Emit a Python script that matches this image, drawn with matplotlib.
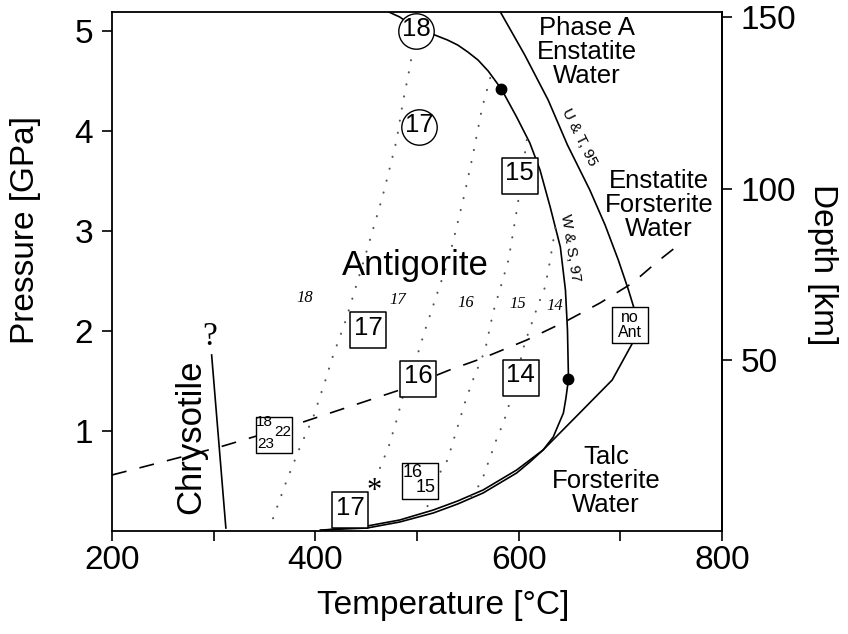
import matplotlib
matplotlib.use("Agg")
import matplotlib.pyplot as plt

plt.rcParams['font.family'] = ['Liberation Sans', 'DejaVu Sans']
SERIF = ['Liberation Serif', 'DejaVu Serif']

# ---------------- data ----------------
# Antigorite breakdown curve (W & S, 97)
ws97_T = [468, 483, 499, 510, 520, 530, 540, 550, 560, 570, 583, 598, 611, 621,
          631, 641, 646, 648, 649, 646.5, 644, 634, 624, 611, 598, 565, 540,
          516, 483, 451, 405]
ws97_P = [5.21, 5.14, 5.03, 4.99, 4.95, 4.91, 4.86, 4.79, 4.71, 4.60, 4.42, 4.14,
          3.88, 3.61, 3.24, 2.84, 2.41, 2.01, 1.52, 1.33, 1.18, 0.94, 0.81, 0.69,
          0.58, 0.38, 0.27, 0.18, 0.09, 0.03, 0.01]
# U & T, 95 curve continuing to talc-forsterite boundary
ut95_T = [582, 606, 629, 648, 670, 685, 698, 708, 714, 715, 712, 692, 660, 624,
          598, 565, 540, 516, 483, 451, 410]
ut95_P = [5.19, 4.76, 4.31, 3.86, 3.41, 3.06, 2.71, 2.41, 2.21, 2.06, 1.88, 1.51,
          1.18, 0.81, 0.61, 0.41, 0.30, 0.21, 0.11, 0.05, 0.01]
# dashed line
geo_T = [200, 306, 385, 483, 532, 565, 608, 647, 680, 712, 736, 761]
geo_P = [0.56, 0.84, 1.08, 1.41, 1.61, 1.73, 1.91, 2.10, 2.28, 2.48, 2.69, 2.89]
# chrysotile line
chr_T = [298, 312]
chr_P = [1.76, 0.03]
# dotted isopleths
iso18_T = [496, 493, 486, 480, 472, 466, 456, 447, 436, 429, 417, 410, 398, 385, 372, 355]
iso18_P = [4.83, 4.64, 4.28, 3.91, 3.58, 3.34, 2.99, 2.68, 2.31, 2.08, 1.74, 1.51,
           1.14, 0.84, 0.51, 0.03]
iso17_T = [572, 564, 555, 547, 539, 531, 520, 508, 501, 486, 480, 472, 462]
iso17_P = [4.53, 4.23, 3.76, 3.38, 3.04, 2.71, 2.38, 2.01, 1.78, 1.34, 1.11, 0.84, 0.59]
iso16_T = [608, 599, 590, 582, 575, 567, 555, 547, 539, 530, 523, 510]
iso16_P = [3.91, 3.26, 2.71, 2.43, 2.19, 1.81, 1.51, 1.28, 1.01, 0.71, 0.59, 0.24]
iso15_T = [636, 631, 626, 619, 614, 606, 592, 585, 579, 572, 564, 557, 550]
iso15_P = [3.03, 2.71, 2.44, 2.26, 2.11, 1.88, 1.31, 1.08, 0.94, 0.74, 0.51, 0.39, 0.31]
iso_labels = ['18', '17', '16', '15', '14']
iso_lab_T = [390, 481, 548, 599, 636]
iso_lab_P = [2.33, 2.31, 2.28, 2.27, 2.25]
# boxed sample numbers
box_text = ['17', '16', '14', '15', '17']
box_T = [452, 501, 602, 601, 434.5]
box_P = [2.01, 1.525, 1.535, 3.555, 0.21]
# circled sample numbers
circ_text = ['18', '17']
circ_T = [499, 502]
circ_P = [5.00, 4.04]
# small composite boxes
small_box_T = [359, 502.5, 709.5]
small_box_P = [0.965, 0.50, 2.06]
sub_text = ['18', '22', '23', '16', '15']
sub_T = [350.0, 367.7, 351.5, 496.1, 508.9]
sub_P = [1.075, 0.98, 0.855, 0.575, 0.42]
sub_size = [11, 11, 11, 13, 13]
# invariant points
dot_T = [583, 649]
dot_P = [4.42, 1.52]

KM_PER_GPA = 29.2

# ---------------- figure ----------------
fig = plt.figure(figsize=(8.48, 6.34), dpi=100)
ax = fig.add_axes([112/848, 1-531/634, 610/848, 519/634])
ax.set_xlim(200, 800)
ax.set_ylim(0, 5.19)

lc = 'black'
ax.plot(ws97_T, ws97_P, color=lc, lw=1.2, zorder=2)
ax.plot(ut95_T, ut95_P, color=lc, lw=1.2, zorder=2)
ax.plot(geo_T, geo_P, color=lc, lw=1.2, ls=(0, (9, 8)), zorder=2)
ax.plot(chr_T, chr_P, color=lc, lw=1.2, zorder=2)
for tt, pp in [(iso18_T, iso18_P), (iso17_T, iso17_P), (iso16_T, iso16_P), (iso15_T, iso15_P)]:
    ax.plot(tt, pp, color='#555555', lw=1.5, ls=(0, (0.1, 5.8)),
            dash_capstyle='round', zorder=2)

ax.plot(dot_T, dot_P, 'o', color='black', ms=7.5, zorder=4)

# boxes and circles
ax.scatter(box_T, box_P, marker='s', s=26.5**2, facecolor='white',
           edgecolor='black', linewidth=1.1, zorder=4)
ax.scatter(small_box_T, small_box_P, marker='s', s=26**2, facecolor='white',
           edgecolor='black', linewidth=1.0, zorder=4)
ax.scatter(circ_T, circ_P, marker='o', s=25.5**2, facecolor='white',
           edgecolor='black', linewidth=1.0, zorder=4)
for t, x, y in zip(box_text, box_T, box_P):
    ax.annotate(t, (x, y), xytext=(0, 1.5), textcoords='offset points',
                ha='center', va='center', fontsize=18.5, zorder=5)
for t, x, y in zip(circ_text, circ_T, circ_P):
    ax.annotate(t, (x, y), xytext=(0, 1.5), textcoords='offset points',
                ha='center', va='center', fontsize=18.5, zorder=5)
for t, x, y, s in zip(sub_text, sub_T, sub_P, sub_size):
    ax.annotate(t, (x, y), xytext=(0, 1), textcoords='offset points',
                ha='center', va='center', fontsize=s, zorder=5)
ax.text(small_box_T[2], small_box_P[2], 'no\nAnt', ha='center', va='center',
        fontsize=11.5, linespacing=0.95, zorder=5)

# italic isopleth labels
for t, x, y in zip(iso_labels, iso_lab_T, iso_lab_P):
    ax.text(x, y, t, ha='center', va='center', fontsize=12, style='italic',
            family=SERIF, zorder=5)

# region labels
ax.text(498, 2.66, 'Antigorite', ha='center', va='center', fontsize=25, zorder=5)
ax.text(277, 0.94, 'Chrysotile', ha='center', va='center', fontsize=25,
        rotation=90, zorder=5)
ax.text(667, 4.79, 'Phase A\nEnstatite\nWater', ha='center', va='center',
        fontsize=18.5, linespacing=1.0, zorder=5)
ax.text(738, 3.26, 'Enstatite\nForsterite\nWater', ha='center', va='center',
        fontsize=18.5, linespacing=1.0, zorder=5)
ax.text(686, 0.50, 'Talc\nForsterite\nWater', ha='center', va='center',
        fontsize=18.5, linespacing=1.0, zorder=5)
ax.text(659.5, 3.94, 'U & T, 95', ha='center', va='center', fontsize=11,
        rotation=-63.5, rotation_mode='anchor', zorder=5)
ax.text(651, 2.83, 'W & S, 97', ha='center', va='center', fontsize=11,
        rotation=-81, rotation_mode='anchor', zorder=5)
ax.text(296.5, 1.86, '?', ha='center', va='baseline', fontsize=24,
        family=SERIF, zorder=5)
ax.text(458, 0.32, '*', ha='center', va='baseline', fontsize=22,
        family=SERIF, zorder=5)

# axes styling
for sp in ax.spines.values():
    sp.set_linewidth(1.3)
ax.set_xticks([200, 400, 600, 800])
ax.set_xticks([300, 500, 700], minor=True)
ax.set_yticks([1, 2, 3, 4, 5])
ax.tick_params(axis='both', which='both', direction='out', length=7.5, width=1.2,
               top=False, right=False)
ax.tick_params(axis='x', which='major', labelsize=24, pad=2.5)
ax.tick_params(axis='y', which='major', labelsize=24, pad=6)

ax.set_xlabel('Temperature [°C]', fontsize=24)
ax.xaxis.set_label_coords(0.543, -0.143)
ax.xaxis.label.set_va('center')
ax.set_ylabel('Pressure [GPa]', fontsize=24)
ax.yaxis.set_label_coords(-0.141, 0.58)
ax.yaxis.label.set_va('center')

sec = ax.secondary_yaxis('right', functions=(lambda p: p * KM_PER_GPA,
                                             lambda d: d / KM_PER_GPA))
sec.set_yticks([50, 100, 150])
sec.tick_params(direction='out', length=7.5, width=1.2, labelsize=24, pad=6)
sec.spines['right'].set_linewidth(1.3)
ax.text(1.164, 0.5125, 'Depth [km]', transform=ax.transAxes, fontsize=24,
        rotation=-90, ha='center', va='center')

fig.savefig('out.png', dpi=100)
